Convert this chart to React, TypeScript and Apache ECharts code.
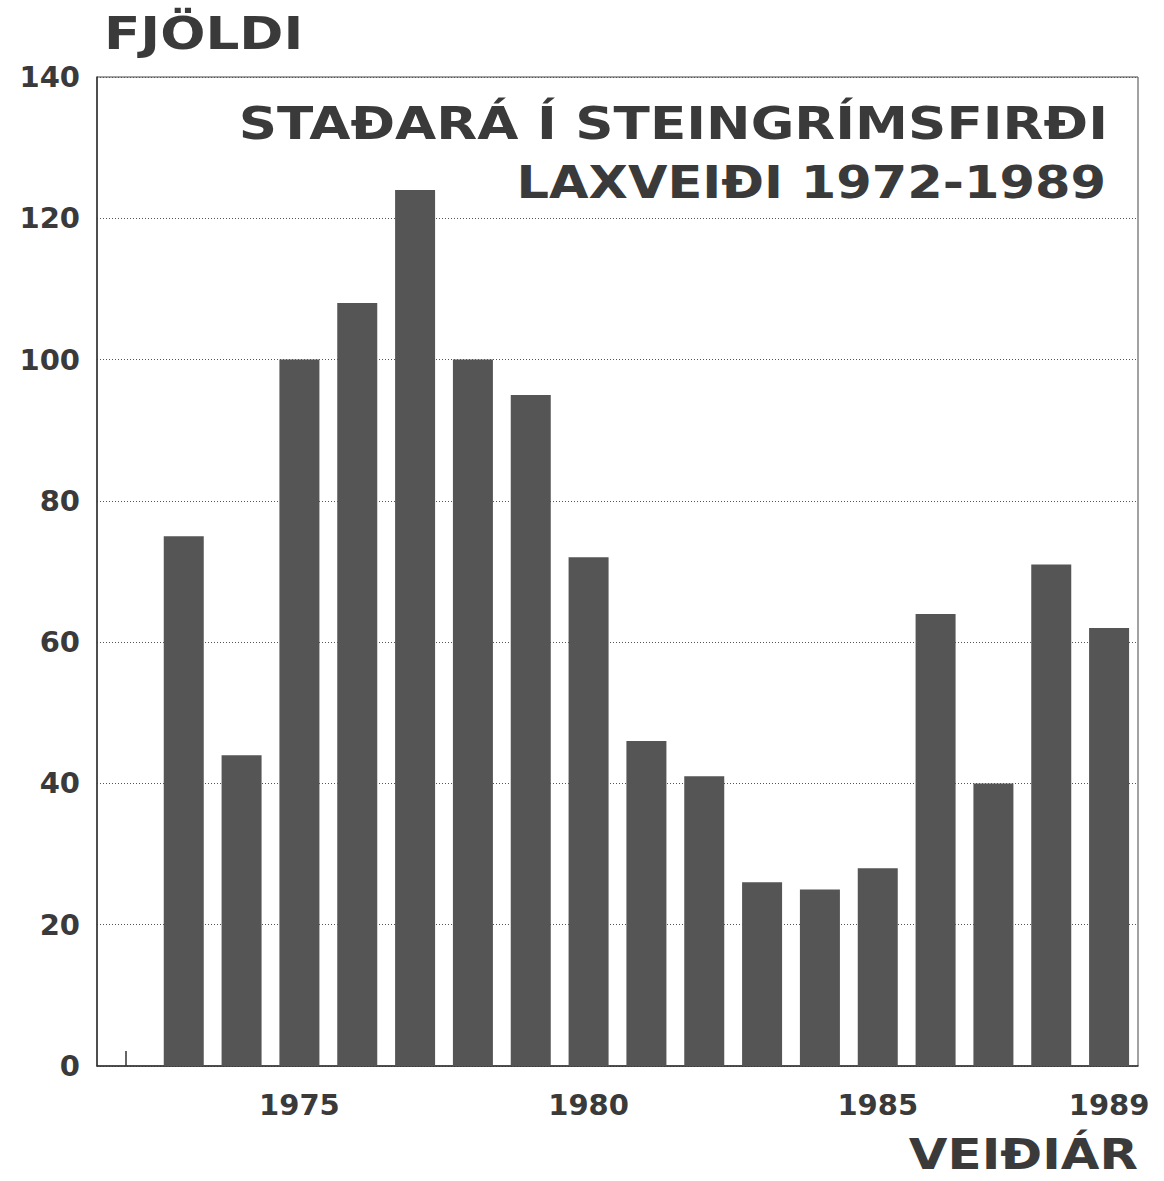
import React, { useEffect, useRef } from "react";
import * as echarts from "echarts";

const years: string[] = [
  "1972", "1973", "1974", "1975", "1976", "1977", "1978", "1979", "1980",
  "1981", "1982", "1983", "1984", "1985", "1986", "1987", "1988", "1989",
];
const catch_: (number | null)[] = [
  null, 75, 44, 100, 108, 124, 100, 95, 72, 46, 41, 26, 25, 28, 64, 40, 71, 62,
];
const shownYearLabels: string[] = ["1975", "1980", "1985", "1989"];
const titleLines: string[] = ["STAÐARÁ Í STEINGRÍMSFIRÐI", "LAXVEIÐI 1972-1989"];
const yName = "FJÖLDI";
const xName = "VEIÐIÁR";

const FONT = "DejaVu Sans";
const INK = "#3a3a3a";

export default function App() {
  const ref = useRef<HTMLDivElement>(null);
  useEffect(() => {
    if (!ref.current) return;
    const chart = echarts.init(ref.current, null, { renderer: "svg" });
    chart.setOption({
      animation: false,
      backgroundColor: "#ffffff",
      grid: {
        left: 97,
        right: 26,
        top: 77,
        bottom: 115,
        show: true,
        borderColor: "#444",
        borderWidth: 1,
        backgroundColor: "transparent",
      },
      xAxis: {
        type: "category",
        data: years,
        boundaryGap: true,
        axisLine: { show: true, lineStyle: { color: "#333", width: 1.5 } },
        axisTick: {
          show: true,
          inside: true,
          length: 15,
          alignWithLabel: true,
          interval: 0,
          lineStyle: { color: "#333", width: 1.5 },
        },
        axisLabel: {
          interval: (_i: number, v: string) => shownYearLabels.includes(v),
          margin: 24,
          fontFamily: FONT,
          fontWeight: "bold",
          fontSize: 29,
          color: INK,
        },
        splitLine: { show: false },
      },
      yAxis: {
        type: "value",
        min: 0,
        max: 140,
        interval: 20,
        axisLine: { show: true, lineStyle: { color: "#333", width: 1.5 } },
        axisTick: { show: false },
        axisLabel: {
          margin: 17,
          fontFamily: FONT,
          fontWeight: "bold",
          fontSize: 29,
          color: INK,
        },
        splitLine: {
          show: true,
          lineStyle: { color: "#555", type: [1, 2], width: 1 },
        },
      },
      series: [
        {
          type: "bar",
          data: catch_,
          barWidth: 40,
          itemStyle: { color: "#555555" },
        },
      ],
      graphic: [
        {
          type: "text",
          x: 104,
          y: 34,
          scaleX: 1.21,
          style: {
            text: yName,
            font: `bold 44px "${FONT}"`,
            fill: INK,
            align: "left",
            verticalAlign: "middle",
          },
        },
        {
          type: "text",
          x: 1108,
          y: 124,
          scaleX: 1.21,
          style: {
            text: titleLines[0],
            font: `bold 44px "${FONT}"`,
            fill: INK,
            align: "right",
            verticalAlign: "middle",
          },
        },
        {
          type: "text",
          x: 1106,
          y: 183,
          scaleX: 1.16,
          style: {
            text: titleLines[1],
            font: `bold 44px "${FONT}"`,
            fill: INK,
            align: "right",
            verticalAlign: "middle",
          },
        },
        {
          type: "text",
          x: 1138,
          y: 1154,
          scaleX: 1.25,
          scaleY: 1.08,
          style: {
            text: xName,
            font: `bold 40px "${FONT}"`,
            fill: INK,
            align: "right",
            verticalAlign: "middle",
          },
        },
      ],
    });
    return () => chart.dispose();
  }, []);
  return (
    <div
      ref={ref}
      style={{ position: "absolute", left: 0, top: 0, width: 1164, height: 1181 }}
    />
  );
}
